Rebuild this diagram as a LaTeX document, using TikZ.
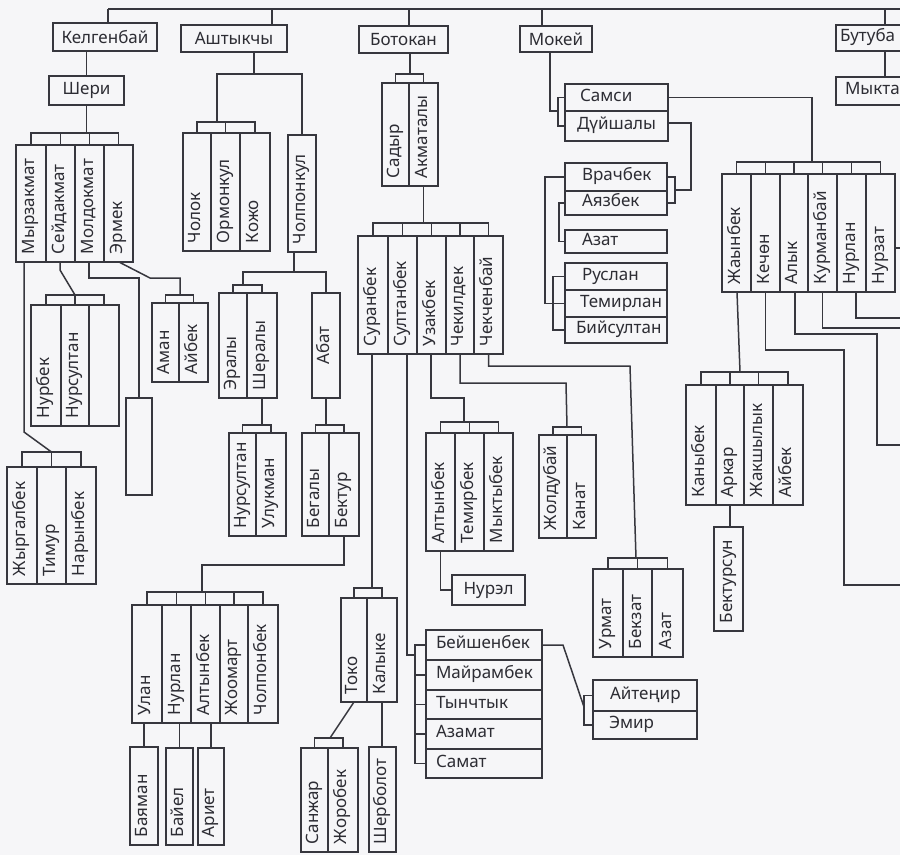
\documentclass[tikz,border=0pt]{standalone}
\usepackage{fontspec}
\setmainfont{Noto Sans}
\definecolor{lc}{RGB}{55,55,62}
\definecolor{tc}{RGB}{45,45,52}
\definecolor{bgc}{RGB}{246,246,248}
\newcommand\rkfs{\fontsize{17}{19}\selectfont}
\tikzset{
 ln/.style={draw=lc, line width=1.5pt},
 box/.style={draw=lc, line width=1.5pt, inner sep=0pt, outer sep=0pt, font=\rkfs, text=tc},
 vc/.style={box, rotate=90, align=left},
 hc/.style={box, align=left},
 cc/.style={box, align=center},
}
% vertical cell: name x1 y1 x2 y2 text
\newcommand\rkvcell[6]{%
 \pgfmathsetmacro\rkW{#4-#2}\pgfmathsetmacro\rkH{#5-#3}%
 \pgfmathsetmacro\rkX{(#2+#4)/2}\pgfmathsetmacro\rkY{(#3+#5)/2}%
 \node[vc, minimum height=\rkW pt, text width=\rkH pt] (#1) at (\rkX,\rkY) {\hspace*{8pt}\strut #6};}
% horizontal cell: name x1 y1 x2 y2 pad text
\newcommand\rkhcell[7]{%
 \pgfmathsetmacro\rkW{#4-#2}\pgfmathsetmacro\rkH{#5-#3}%
 \pgfmathsetmacro\rkX{(#2+#4)/2}\pgfmathsetmacro\rkY{(#3+#5)/2}%
 \node[hc, minimum height=\rkH pt, text width=\rkW pt] (#1) at (\rkX,\rkY) {\hspace*{#6pt}\strut #7};}
% centred cell: name x1 y1 x2 y2 text
\newcommand\rkccell[6]{%
 \pgfmathsetmacro\rkW{#4-#2}\pgfmathsetmacro\rkH{#5-#3}%
 \pgfmathsetmacro\rkX{(#2+#4)/2}\pgfmathsetmacro\rkY{(#3+#5)/2}%
 \node[cc, minimum width=\rkW pt, minimum height=\rkH pt] (#1) at (\rkX,\rkY) {#6};}
% top bracket: y first last list
\newcommand\rkTB[4]{%
 \coordinate (rkb) at (0,#1);
 \draw[ln] (#2.east) -- (#2.east |- rkb) -- (#3.east |- rkb) -- (#3.east);
 \foreach \rkn in {#4}{\draw[ln] (\rkn.east) -- (\rkn.east |- rkb);}}
% left bracket: x first last list
\newcommand\rkLB[4]{%
 \coordinate (rkb) at (#1,0);
 \draw[ln] (#2.west) -- (#2.west -| rkb) -- (#3.west -| rkb) -- (#3.west);
 \foreach \rkn in {#4}{\draw[ln] (\rkn.west) -- (\rkn.west -| rkb);}}
% right bracket
\newcommand\rkRB[4]{%
 \coordinate (rkb) at (#1,0);
 \draw[ln] (#2.east) -- (#2.east -| rkb) -- (#3.east -| rkb) -- (#3.east);
 \foreach \rkn in {#4}{\draw[ln] (\rkn.east) -- (\rkn.east -| rkb);}}

\begin{document}
\begin{tikzpicture}[x=1pt,y=-1pt]
\useasboundingbox (0,0) rectangle (900,855);
\fill[bgc] (0,0) rectangle (900,855);
\clip (0,0) rectangle (900,855);

% ---------- top level ----------
\rkccell{kel}{53}{23}{157}{51}{Келгенбай}
\rkccell{ash}{181}{25}{287}{52}{Аштыкчы}
\rkccell{bot}{359}{26}{448}{53}{Ботокан}
\rkccell{mok}{520}{26}{592}{52}{Мокей}
\rkhcell{but}{836}{25}{960}{51}{4}{Бутуба}
\rkhcell{myk}{836}{77}{960}{105}{9}{Мыкта}
\rkccell{sheri}{49}{76}{124}{105}{Шери}

\draw[ln] (108,9) -- (910,9);
\draw[ln] (108,9) -- (108,23);
\draw[ln] (272,9) -- (272,25);
\draw[ln] (409,9) -- (409,26);
\draw[ln] (542,9) -- (542,26);
\draw[ln] (885,9) -- (885,25);
\draw[ln] (885,51) -- (885,77);
\draw[ln] (sheri.north |- kel.south) -- (sheri.north);

% ---------- Шери ----------
\rkvcell{myr}{16}{145}{46}{262}{Мырзакмат}
\rkvcell{sei}{46}{145}{75}{262}{Сейдакмат}
\rkvcell{mol}{75}{145}{104}{262}{Молдокмат}
\rkvcell{erm}{104}{145}{133}{262}{Эрмек}
\rkTB{133}{myr}{erm}{sei,mol}
\draw[ln] (sheri.south) -- (sheri.south |- rkb);

\rkvcell{jyr}{7}{467}{37}{584}{Жыргалбек}
\rkvcell{tim}{37}{467}{66}{584}{Тимур}
\rkvcell{nar}{66}{467}{96}{584}{Нарынбек}
\rkTB{452}{jyr}{nar}{tim}
\draw[ln] (24,262) -- (24,432) -- (tim.east |- rkb);

\rkvcell{nurb}{31}{305}{61}{426}{Нурбек}
\rkvcell{nurs}{61}{305}{89}{426}{Нурсултан}
\rkvcell{nemp}{89}{305}{119}{426}{}
\rkTB{295}{nurb}{nemp}{nurs}
\draw[ln] (60,262) -- (60,270) -- (nurs.east |- rkb);

\rkccell{emp}{126}{398}{152}{495}{}
\draw[ln] (89,262) -- (89,278) -- (139,278) -- (139,398);

\rkvcell{aman}{152}{303}{179}{382}{Аман}
\rkvcell{aib}{179}{303}{208}{382}{Айбек}
\rkTB{295}{aman}{aib}{}
\draw[ln] (119,262) -- (150,278) -- (180,278) -- (180,295);

% ---------- Аштыкчы ----------
\rkvcell{chol}{183}{133}{211}{251}{Чолок}
\rkvcell{orm}{211}{133}{240}{251}{Ормонкул}
\rkvcell{koj}{240}{133}{270}{251}{Кожо}
\rkTB{122}{chol}{koj}{orm}
\rkvcell{cholp}{288}{135}{316}{252}{Чолпонкул}
\draw[ln] (254,52) -- (254,74);
\draw[ln] (217,122) -- (217,74) -- (302,74) -- (cholp.east);

\rkvcell{eral}{219}{293}{247}{398}{Эралы}
\rkvcell{sher}{247}{293}{277}{398}{Шералы}
\rkTB{285}{eral}{sher}{}
\node[box, rotate=90, minimum width=105pt, minimum height=28pt] (abat) at (326,345.5) {\strut Абат};
\draw[ln] (294,252) -- (294,272);
\draw[ln] (243,285) -- (243,272) -- (326,272) -- (abat.east);

\rkvcell{nurs2}{229}{433}{256}{536}{Нурсултан}
\rkvcell{uluk}{256}{433}{286}{536}{Улукман}
\rkTB{425}{nurs2}{uluk}{}
\draw[ln] (sher.west) -- (sher.west |- rkb);

\rkvcell{beg}{302}{433}{329}{536}{Бегалы}
\rkvcell{bekt}{329}{433}{359}{536}{Бектур}
\rkTB{425}{beg}{bekt}{}
\draw[ln] (abat.west) -- (abat.west |- rkb);

\rkvcell{ulan}{132}{605}{162}{723}{Улан}
\rkvcell{nurl}{162}{605}{191}{723}{Нурлан}
\rkvcell{alt}{191}{605}{220}{723}{Алтынбек}
\rkvcell{joom}{220}{605}{248}{723}{Жоомарт}
\rkvcell{cholpb}{248}{605}{278}{723}{Чолпонбек}
\rkTB{592}{ulan}{cholpb}{nurl,alt,joom}
\draw[ln] (bekt.west) -- (344,565) -- (202,565) -- (202,592);

\rkvcell{bay}{130}{747}{158}{845}{Баяман}
\rkvcell{bayel}{166}{748}{193}{845}{Байел}
\rkvcell{ariet}{198}{748}{224}{845}{Ариет}
\draw[ln] (bay.east |- ulan.west) -- (bay.east);
\draw[ln] (bayel.east |- nurl.west) -- (bayel.east);
\draw[ln] (ariet.east |- alt.west) -- (ariet.east);

% ---------- Ботокан ----------
\rkvcell{sad}{382}{83}{409}{186}{Садыр}
\rkvcell{akm}{409}{83}{438}{186}{Акматалы}
\rkTB{74}{sad}{akm}{}
\draw[ln] (410,53) -- (410,74);

\rkvcell{sur}{358}{236}{388}{354}{Суранбек}
\rkvcell{sul}{388}{236}{417}{354}{Султанбек}
\rkvcell{uzak}{417}{236}{446}{354}{Узакбек}
\rkvcell{chek}{446}{236}{474}{354}{Чекилдек}
\rkvcell{chekch}{474}{236}{503}{354}{Чекченбай}
\rkTB{223}{sur}{chekch}{sul,uzak,chek}
\draw[ln] (akm.west) -- (akm.west |- rkb);

\rkvcell{toko}{341}{598}{367}{702}{Токо}
\rkvcell{kal}{367}{598}{397}{702}{Калыке}
\rkTB{588}{toko}{kal}{}
\draw[ln] (372,354) -- (372,588);

\rkvcell{sanj}{301}{748}{328}{852}{Санжар}
\rkvcell{jorob}{328}{748}{358}{852}{Жоробек}
\rkTB{738}{sanj}{jorob}{}
\draw[ln] (toko.west) -- (330,738);
\rkvcell{sherb}{369}{747}{396}{852}{Шерболот}
\draw[ln] (kal.west) -- (kal.west |- sherb.east);

\rkhcell{beish}{426}{630}{542}{660}{10}{Бейшенбек}
\rkhcell{mair}{426}{660}{542}{690}{10}{Майрамбек}
\rkhcell{tynch}{426}{690}{542}{719}{10}{Тынчтык}
\rkhcell{azam}{426}{719}{542}{749}{10}{Азамат}
\rkhcell{samat}{426}{749}{542}{778}{10}{Самат}
\rkLB{415}{beish}{samat}{mair,tynch,azam}
\draw[ln] (407,354) -- (407,655) -- (415,655);

\rkhcell{aiten}{593}{680}{697}{711}{17}{Айтеңир}
\rkhcell{emir}{593}{711}{697}{739}{16}{Эмир}
\rkLB{584}{aiten}{emir}{}
\draw[ln] (beish.east) -- (563,645) -- (584,707);

\rkvcell{alt2}{426}{433}{455}{551}{Алтынбек}
\rkvcell{temb}{455}{433}{484}{551}{Темирбек}
\rkvcell{mykt}{484}{433}{513}{551}{Мыктыбек}
\rkTB{422}{alt2}{mykt}{temb}
\draw[ln] (431,354) -- (431,398) -- (464,398) -- (464,422);
\rkccell{nurel}{452}{575}{525}{605}{Нурэл}
\draw[ln] (alt2.west) -- (alt2.west |- nurel.west) -- (nurel.west);

\rkvcell{jold}{539}{435}{567}{538}{Жолдубай}
\rkvcell{kanat}{567}{435}{596}{538}{Канат}
\rkTB{427}{jold}{kanat}{}
\draw[ln] (chek.west) -- (460,383) -- (566,383) -- (567,427);

\rkvcell{urm}{593}{569}{623}{657}{Урмат}
\rkvcell{bekz}{623}{569}{652}{657}{Бекзат}
\rkvcell{azat2}{652}{569}{683}{657}{Азат}
\rkTB{558}{urm}{azat2}{bekz}
\draw[ln] (chekch.west) -- (488.5,366) -- (630,366) -- (636,558);

% ---------- Мокей ----------
\rkhcell{samsi}{565}{84}{668}{111}{15}{Самси}
\rkhcell{duish}{565}{111}{668}{141}{12}{Дүйшалы}
\rkLB{558}{samsi}{duish}{}
\draw[ln] (550,52) -- (550,111) -- (558,111);

\rkhcell{vrach}{565}{163}{667}{191}{17}{Врачбек}
\rkhcell{ayaz}{565}{191}{667}{215}{17}{Аязбек}
\rkRB{675}{vrach}{ayaz}{}
\draw[ln] (668,123) -- (691,123) -- (691,190) -- (675,190);

\rkhcell{azat}{565}{230}{667}{253}{17}{Азат}
\rkLB{559}{ayaz}{azat}{}

\rkhcell{rusl}{565}{263}{667}{290}{17}{Руслан}
\rkhcell{temir}{565}{290}{667}{317}{15}{Темирлан}
\rkhcell{biys}{565}{317}{667}{343}{11}{Бийсултан}
\rkLB{553}{rusl}{biys}{temir}
\draw[ln] (vrach.west) -- (545,177) -- (545,303.5) -- (temir.west);

% ---------- Самси ----------
\rkvcell{jayn}{722}{174}{751}{292}{Жаынбек}
\rkvcell{kech}{751}{174}{780}{292}{Кечөн}
\rkvcell{alyk}{780}{174}{808}{292}{Алык}
\rkvcell{kurm}{808}{174}{837}{292}{Курманбай}
\rkvcell{nurl2}{837}{174}{866}{292}{Нурлан}
\rkvcell{nurz}{866}{174}{895}{292}{Нурзат}
\rkTB{162}{jayn}{nurz}{kech,alyk,kurm,nurl2}
\draw[ln] (samsi.east) -- (812,97.5) -- (812,162);

\rkvcell{kany}{686}{385}{716}{505}{Каныбек}
\rkvcell{arkar}{716}{385}{744}{505}{Аркар}
\rkvcell{jaksh}{744}{385}{773}{505}{Жакшылык}
\rkvcell{aib2}{773}{385}{803}{505}{Айбек}
\rkTB{372}{kany}{aib2}{arkar,jaksh}
\draw[ln] (737,292) -- (740,372);

\rkvcell{bekts}{714}{527}{743}{631}{Бектурсун}
\draw[ln] (arkar.west) -- (arkar.west |- bekts.east);

\draw[ln] (765.5,292) -- (765.5,350) -- (844,350) -- (844,585) -- (910,585);
\draw[ln] (795,292) -- (795,334) -- (877,334) -- (877,445) -- (910,445);
\draw[ln] (822.5,292) -- (822.5,328) -- (910,328);
\draw[ln] (856,292) -- (856,318) -- (910,318);
\draw[ln] (895,248) -- (910,248);
\end{tikzpicture}
\end{document}
